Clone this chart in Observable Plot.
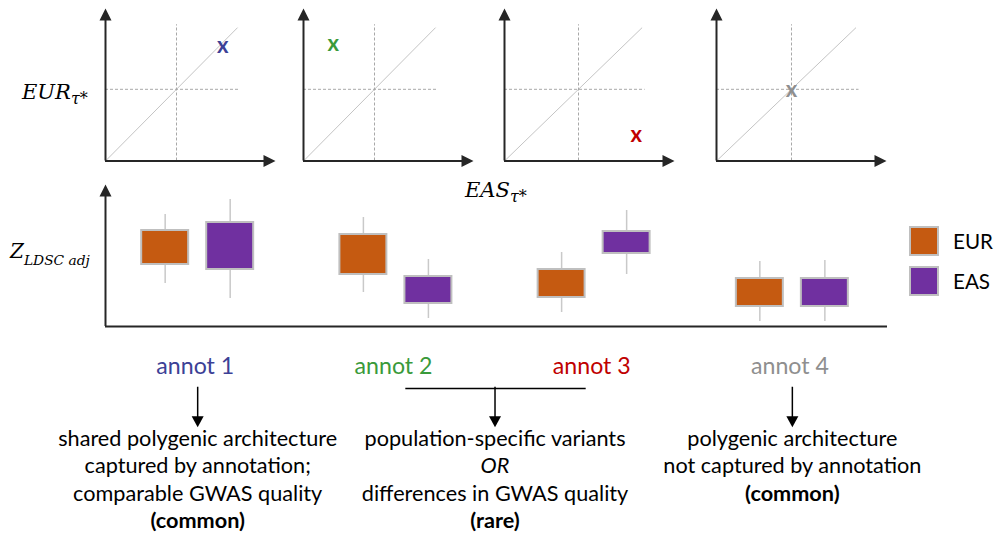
<!DOCTYPE html>
<html><head><meta charset="utf-8">
<script src="https://cdn.jsdelivr.net/npm/d3@7"></script>
<script src="https://cdn.jsdelivr.net/npm/@observablehq/plot@0.6"></script>
<style>
html,body{margin:0;padding:0;background:#fff;}
#root{position:relative;width:997px;height:535px;overflow:hidden;background:#fff;font-family:Lato,sans-serif;color:#000;}
#root > *{position:absolute;}
</style></head>
<body><div id="root"></div>
<script>
// ---------------- data ----------------
const annots = ["annot 1", "annot 2", "annot 3", "annot 4"];
const annotColors = ["#3C4196", "#3A9A3A", "#C00000", "#8F8F8F"];
const populations = ["EUR", "EAS"];
const popColors = ["#C55A11", "#7030A0"];
// top panels: EAS tau* (x) vs EUR tau* (y), reference value = 1
const easTau = [1.65, 0.42, 1.78, 1.0];
const eurTau = [1.61, 1.63, 0.37, 0.99];
// bottom panel: Z_LDSC adj (whisker low, box low, box high, whisker high)
const eurLow  = [4.3, 3.4, 1.4, 0.5];
const eurQ1   = [6.2, 5.2, 2.9, 2.0];
const eurQ3   = [9.6, 9.2, 5.7, 4.8];
const eurHigh = [11.2, 10.9, 7.4, 6.5];
const easLow  = [2.8, 0.8, 5.2, 0.5];
const easQ1   = [5.7, 2.3, 7.3, 2.0];
const easQ3   = [10.4, 5.0, 9.5, 4.8];
const easHigh = [12.7, 6.7, 11.6, 6.6];
// conclusions
const conclusionGroups = [["annot 1"], ["annot 2", "annot 3"], ["annot 4"]];
const conclusionLines = [
  ["shared polygenic architecture", "captured by annotation;", "comparable GWAS quality", "(common)"],
  ["population-specific variants", "OR", "differences in GWAS quality", "(rare)"],
  ["polygenic architecture", "not captured by annotation", "(common)"]
];
const conclusionStyles = [
  ["normal", "normal", "normal", "bold"],
  ["normal", "italic", "normal", "bold"],
  ["normal", "normal", "bold"]
];

// ---------------- layout ----------------
const root = document.getElementById("root");
const SANS = "Lato, 'Open Sans', sans-serif";
const SERIF = "'DejaVu Serif', serif";
const AXIS = "#262626";
const cv = document.createElement("canvas").getContext("2d");
function fitSize(text, target, family, style = "") {
  cv.font = `${style} 100px ${family}`;
  return 100 * target / cv.measureText(text).width;
}
const bodySize = fitSize("shared polygenic architecture", 279, "Lato");
const annotSize = fitSize("annot 1", 78, "Lato");
const legendSize = fitSize("EUR", 40, "Lato");
const xMarkSize = fitSize("x", 11.5, "Lato", "bold");
const mathSize = fitSize("EUR", 49, "'DejaVu Serif'", "italic");
const zSubSize = fitSize("LDSC adj", 66, "'DejaVu Serif'", "italic");

const headRight = {draw(c) { c.moveTo(0, 0); c.lineTo(-12, -6); c.lineTo(-12, 6); c.closePath(); }};
const headUp    = {draw(c) { c.moveTo(0, 0); c.lineTo(-6, 12); c.lineTo(6, 12); c.closePath(); }};
const headDown  = {draw(c) { c.moveTo(0, 0); c.lineTo(-6, -11); c.lineTo(6, -11); c.closePath(); }};

// ---- top scatter panels ----
const panelAxisX = [105, 303, 504, 716];
const panelUnitX = [71, 71, 74, 75];
const unitY = 71.7, originY = 160.5, axisLen = 170, yTipPx = 8, pH = 172;
annots.forEach((a, i) => {
  const ux = panelUnitX[i];
  const xMax = (axisLen + 1) / ux, yMax = originY / unitY;
  const xTip = axisLen / ux, yTip = (originY - yTipPx) / unitY;
  const svg = Plot.plot({
    width: 181, height: pH, marginLeft: 5, marginRight: 5, marginTop: 0, marginBottom: pH - originY,
    x: {domain: [0, xMax], axis: null},
    y: {domain: [0, yMax], axis: null},
    style: {background: "transparent", fontFamily: SANS, overflow: "visible"},
    marks: [
      Plot.link([0], {x1: 0, y1: 0, x2: 1.86, y2: 1.86, stroke: "#C4C4C4", strokeWidth: 1}),
      Plot.ruleX([1], {y1: 0, y2: 1.9, stroke: "#A8A8A8", strokeWidth: 1, strokeDasharray: "3,2"}),
      Plot.ruleY([1], {x1: 0, x2: 1.9, stroke: "#A8A8A8", strokeWidth: 1, strokeDasharray: "3,2"}),
      Plot.ruleX([0], {y1: 0, y2: yTip - 10 / unitY, stroke: AXIS, strokeWidth: 2}),
      Plot.ruleY([0], {x1: 0, x2: xTip - 10 / ux, stroke: AXIS, strokeWidth: 2}),
      Plot.dot([0], {x: xTip, y: 0, symbol: headRight, fill: AXIS, stroke: "none"}),
      Plot.dot([0], {x: 0, y: yTip, symbol: headUp, fill: AXIS, stroke: "none"}),
      Plot.text([a], {x: easTau[i], y: eurTau[i], text: () => "x", fill: annotColors[i],
        fontWeight: "bold", fontSize: xMarkSize})
    ]
  });
  svg.style.left = (panelAxisX[i] - 5) + "px";
  svg.style.top = "0px";
  root.append(svg);
});

// ---- box panel ----
const xDom = [0.535, 4.48];
const popOffset = {EUR: -0.164, EAS: 0.164};
const halfBox = 0.1185;
const boxes = annots.flatMap((a, i) => [
  {annot: a, idx: i + 1, pop: "EUR", lo: eurLow[i], q1: eurQ1[i], q3: eurQ3[i], hi: eurHigh[i]},
  {annot: a, idx: i + 1, pop: "EAS", lo: easLow[i], q1: easQ1[i], q3: easQ3[i], hi: easHigh[i]}
]);
const cx = d => d.idx + popOffset[d.pop];
const boxPlot = Plot.plot({
  width: 997, height: 160, marginLeft: 105, marginRight: 110, marginTop: 0, marginBottom: 9,
  x: {domain: xDom, axis: null},
  y: {domain: [0, 15.1], axis: null},
  color: {domain: populations, range: popColors},
  style: {background: "transparent", fontFamily: SANS, overflow: "visible"},
  marks: [
    Plot.ruleX(boxes, {x: cx, y1: "lo", y2: "hi", stroke: "#C9C9C9", strokeWidth: 1.5}),
    Plot.rect(boxes, {x1: d => cx(d) - halfBox, x2: d => cx(d) + halfBox, y1: "q1", y2: "q3",
      fill: "pop", stroke: "#BFBFBF", strokeWidth: 2}),
    Plot.ruleY([0], {x1: xDom[0], x2: xDom[1], stroke: AXIS, strokeWidth: 2}),
    Plot.ruleX([xDom[0]], {y1: 0, y2: 13.2, stroke: AXIS, strokeWidth: 2}),
    Plot.dot([0], {x: xDom[0], y: 14.2, symbol: headUp, fill: AXIS, stroke: "none"})
  ]
});
boxPlot.style.left = "0px";
boxPlot.style.top = "175px";
root.append(boxPlot);

// ---- legend ----
populations.forEach((p, i) => {
  const sw = document.createElement("div");
  sw.style.cssText = `left:909px;top:${226 + i * 40}px;width:30px;height:30px;box-sizing:border-box;border:2px solid #BFBFBF;background:${popColors[i]};`;
  root.append(sw);
  const lb = document.createElement("div");
  lb.textContent = p;
  lb.style.cssText = `left:953px;top:${226 + i * 40}px;height:30px;display:flex;align-items:center;font-size:${legendSize}px;font-family:${SANS};color:#000;`;
  root.append(lb);
});

// ---- annotation / conclusions ----
const rows = {label: 0, arrowTop: 0.5, arrowTip: 1.95, bracket: 0.545, firstLine: 2.62};
const groupX = conclusionGroups.map(g => d3.mean(g, a => annots.indexOf(a) + 1));
const brackets = conclusionGroups.map((g, k) => ({g, k})).filter(d => d.g.length > 1).map(d => ({
  x1: annots.indexOf(d.g[0]) + 1 + 0.05, x2: annots.indexOf(d.g[d.g.length - 1]) + 1 - 0.04
}));
const lines = conclusionLines.flatMap((ls, g) => ls.map((t, k) => ({
  x: groupX[g], row: rows.firstLine + k, text: t, style: conclusionStyles[g][k]
})));
const annH = 195, rowPx = 27.5, labelBase = 33;
const annPlot = Plot.plot({
  width: 997, height: annH, marginLeft: 105, marginRight: 110, marginTop: 0, marginBottom: 0,
  x: {domain: xDom, axis: null},
  y: {domain: [-labelBase / rowPx, (annH - labelBase) / rowPx], reverse: true, axis: null},
  style: {background: "transparent", fontFamily: SANS, overflow: "visible"},
  marks: [
    ...annots.map((a, i) => Plot.text([a], {x: i + 1 - 0.012, y: rows.label, text: d => d,
      fill: annotColors[i], fontSize: annotSize, lineAnchor: "bottom"})),
    Plot.ruleY(brackets, {x1: "x1", x2: "x2", y: rows.bracket, stroke: "#000", strokeWidth: 1.3}),
    Plot.ruleX(groupX, {x: d => d, y1: rows.arrowTop, y2: rows.arrowTip - 0.3, stroke: "#000", strokeWidth: 1.5}),
    Plot.dot(groupX, {x: d => d, y: rows.arrowTip, symbol: headDown, fill: "#000", stroke: "none"}),
    ...["normal", "italic", "bold"].map(s => Plot.text(lines.filter(d => d.style === s), {
      x: "x", y: "row", text: "text", lineAnchor: "bottom", fontSize: bodySize, fill: "#000",
      fontWeight: s === "bold" ? "bold" : "normal", fontStyle: s === "italic" ? "italic" : "normal"
    }))
  ]
});
annPlot.style.left = "0px";
annPlot.style.top = "340px";
root.append(annPlot);

// ---- math axis labels ----
const ov = d3.create("svg").attr("width", 997).attr("height", 535)
  .style("left", "0px").style("top", "0px").style("pointer-events", "none");
function mathLabel(main, sub, x, y, size, subSize, subDy) {
  const t = ov.append("text").attr("x", x).attr("y", y)
    .attr("font-family", SERIF).attr("font-style", "italic").attr("font-size", size).attr("fill", "#000");
  t.append("tspan").text(main);
  t.append("tspan").attr("font-size", subSize).attr("dy", subDy).text(sub);
}
mathLabel("EUR", "τ*", 22, 99, mathSize, 16, 5);
mathLabel("EAS", "τ*", 465, 197, mathSize, 16, 5);
mathLabel("Z", "LDSC adj", 10, 258, 20, zSubSize, 7);
root.append(ov.node());
</script>
</body></html>
